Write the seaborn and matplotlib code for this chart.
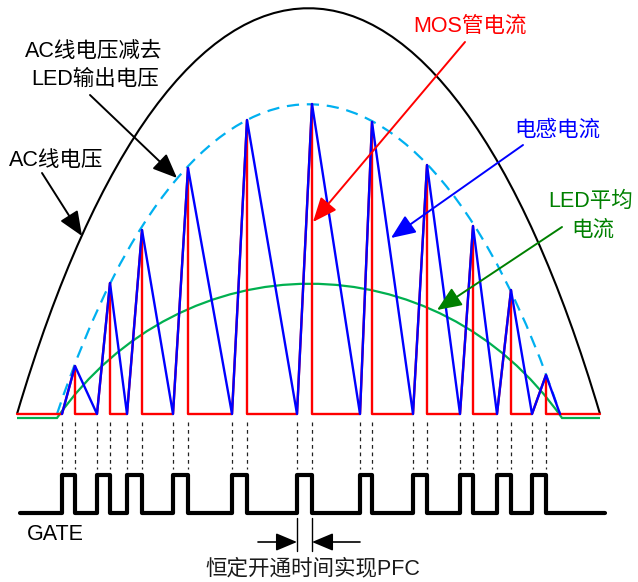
import matplotlib
matplotlib.use("Agg")
import matplotlib.pyplot as plt
from matplotlib.path import Path
from matplotlib.patches import PathPatch
import seaborn as sns

# Waveform data, in drawing units (x = time, y = height above the zero line)
BASE = 414          # zero line of the current / voltage waveforms
GATE_LOW, GATE_HIGH = 513, 475

t_on = [62, 97, 127, 173, 232, 297, 360, 413, 460, 497, 532]
t_off = [75, 110, 142, 188, 247, 312, 372, 427, 473, 511, 546]
i_peak = [48, 131, 184, 246, 294, 310, 292, 249, 188, 124, 39]
t_end = 560          # inductor current reaches zero after last pulse
t_start, t_stop = 17, 600

# curve control points (bezier)
ac_x = [17, 177, 440, 600]
ac_h = [0, 541, 541, 0]
dash_x = [57, 195, 422, 560]
dash_h = [0, 413, 413, 0]
led_x = [57, 182, 437, 562]
led_h = [-4, 175, 175, -4]

sns.set_theme(style="white")
plt.rcParams['font.family'] = ['Liberation Sans', 'Noto Sans CJK SC']

fig = plt.figure(figsize=(6.38, 5.82), dpi=100)
ax = fig.add_axes([0, 0, 1, 1])
ax.set_xlim(0, 638)
ax.set_ylim(582, 0)
ax.axis('off')


def bezier(xs, hs, head=None, tail=None):
    verts = []
    codes = []
    if head is not None:
        verts.append(head)
        codes.append(Path.MOVETO)
        verts.append((xs[0], BASE - hs[0]))
        codes.append(Path.LINETO)
    else:
        verts.append((xs[0], BASE - hs[0]))
        codes.append(Path.MOVETO)
    for x, h in zip(xs[1:], hs[1:]):
        verts.append((x, BASE - h))
        codes.append(Path.CURVE4)
    if tail is not None:
        verts.append(tail)
        codes.append(Path.LINETO)
    return Path(verts, codes)


# AC line voltage
ax.add_patch(PathPatch(bezier(ac_x, ac_h), fill=False, color='black', lw=1.5))
# AC minus LED voltage (dashed)
ax.add_patch(PathPatch(bezier(dash_x, dash_h), fill=False, color='#00B0F0',
                       lw=1.6, linestyle=(0, (5.5, 3.5))))

# MOS current (red)
rx, ry = [t_start, t_on[0]], [BASE, BASE]
for on, off, pk in zip(t_on, t_off, i_peak):
    rx += [on, off, off]
    ry += [BASE, BASE - pk, BASE]
rx.append(t_stop)
ry.append(BASE)
sns.lineplot(x=rx, y=ry, sort=False, estimator=None, color='#FF0000', lw=1.7, ax=ax)

# inductor current (blue)
nxt = t_on[1:] + [t_end]
bx, by = [t_on[0]], [BASE]
for off, pk, n in zip(t_off, i_peak, nxt):
    bx += [off, n]
    by += [BASE - pk, BASE]
sns.lineplot(x=bx, y=by, sort=False, estimator=None, color='#0000FF', lw=1.7, ax=ax)

# LED average current (green)
ax.add_patch(PathPatch(bezier(led_x, led_h, head=(t_start, BASE + 4), tail=(t_stop, BASE + 4)),
                       fill=False, color='#00B050', lw=1.6))

# gate signal
gx, gy = [20], [GATE_LOW]
for on, off in zip(t_on, t_off):
    gx += [on, on, off, off]
    gy += [GATE_LOW, GATE_HIGH, GATE_HIGH, GATE_LOW]
gx.append(605)
gy.append(GATE_LOW)
sns.lineplot(x=gx, y=gy, sort=False, estimator=None, color='black', lw=3, ax=ax)

# dashed guides between waveform and gate edges
for t in t_on + t_off:
    ax.plot([t, t], [422, 469], color='#222222', lw=0.9, linestyle=(0, (3, 3)))

# labels
fs = 15.5
ax.text(94, 51, 'AC线电压减去', fontsize=fs, ha='center', va='center', color='black')
ax.text(95, 79, 'LED输出电压', fontsize=fs, ha='center', va='center', color='black')
ax.text(56, 161, 'AC线电压', fontsize=fs, ha='center', va='center', color='black')
ax.text(470, 26, 'MOS管电流', fontsize=fs, ha='center', va='center', color='#FF0000')
ax.text(557, 130, '电感电流', fontsize=fs, ha='center', va='center', color='#0000FF')
ax.text(591, 201, 'LED平均', fontsize=fs, ha='center', va='center', color='#008000')
ax.text(593, 230, '电流', fontsize=fs, ha='center', va='center', color='#008000')
ax.text(55, 534, 'GATE', fontsize=fs, ha='center', va='center', color='black')
ax.text(313, 569, '恒定开通时间实现PFC', fontsize=fs, ha='center', va='center', color='#1a1a1a')


def arrow(start, end, color, lw=1.4, scale=15):
    ax.annotate('', xy=end, xytext=start,
                arrowprops=dict(arrowstyle='-|>,head_length=1.0,head_width=0.42',
                                color=color, lw=lw, mutation_scale=scale,
                                shrinkA=0, shrinkB=0))


arrow((90, 95), (177, 178), 'black')
arrow((42, 173), (82, 236), 'black')
arrow((465, 42), (313, 222), '#FF0000')
arrow((523, 145), (391, 238), '#0000FF')
arrow((562, 227), (437, 310), '#008000')

# on-time marker
ax.plot([297, 297], [518, 551], color='black', lw=1)
ax.plot([312, 312], [518, 551], color='black', lw=1)
arrow((258, 542), (297, 542), 'black', lw=1.2, scale=13)
arrow((360, 542), (312, 542), 'black', lw=1.2, scale=13)

fig.savefig('out.png', dpi=100)
